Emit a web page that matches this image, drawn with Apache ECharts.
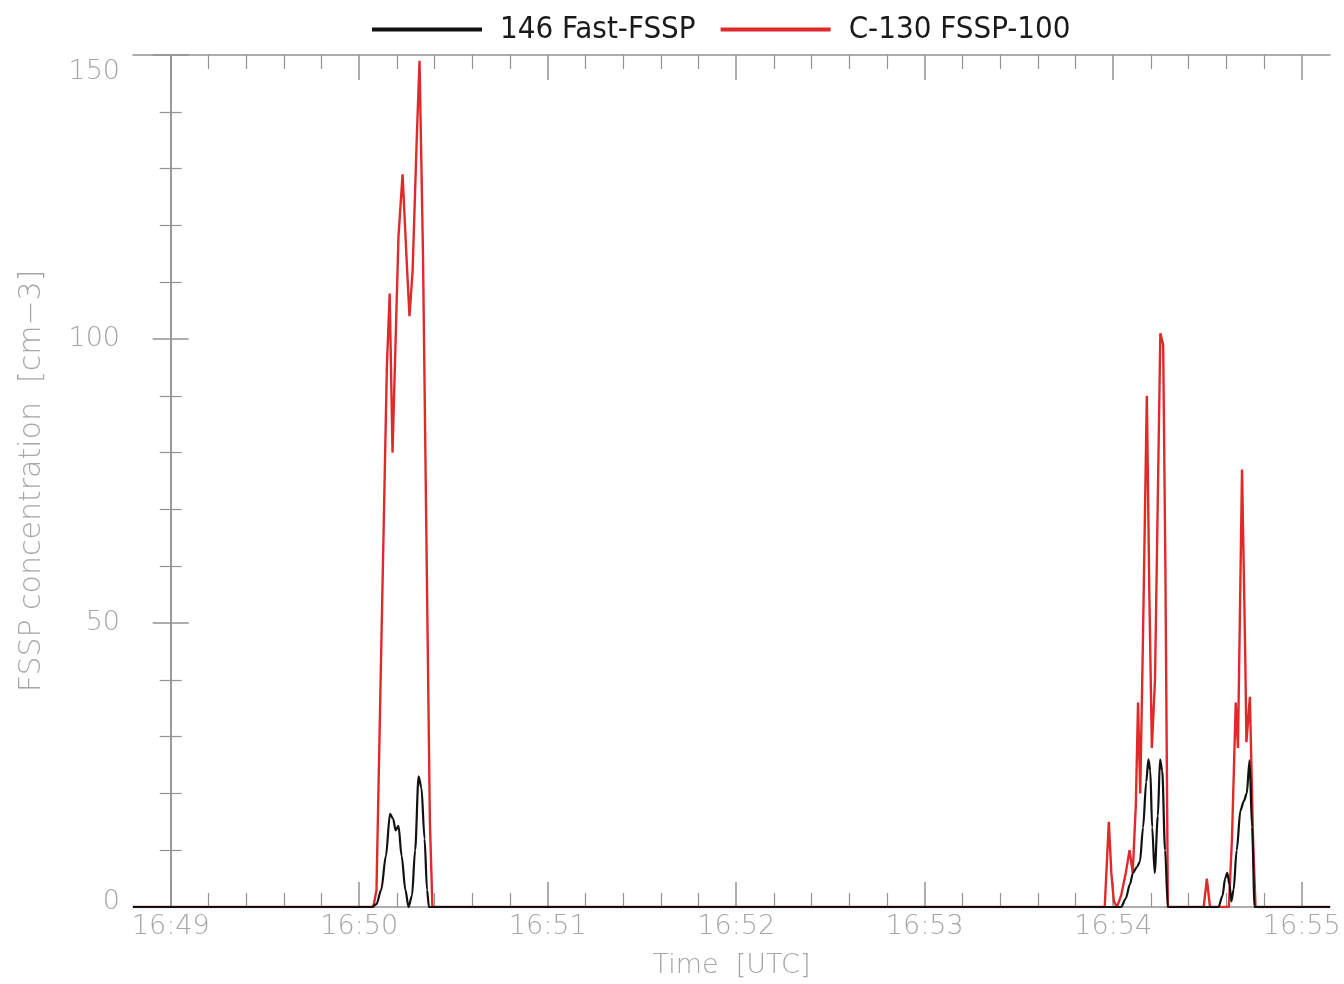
<!DOCTYPE html>
<html>
<head>
<meta charset="utf-8">
<script src="https://cdn.jsdelivr.net/npm/echarts@6/dist/echarts.min.js"></script>
<style>
html,body{margin:0;padding:0;background:#fff;}
#chart{width:1344px;height:984px;}
</style>
</head>
<body>
<div id="chart"></div>
<script>
// time in seconds relative to 16:49:00 UTC
var seriesNames = ['146 Fast-FSSP', 'C-130 FSSP-100'];
var timeTicks = [0, 60, 120, 180, 240, 300, 360];
var tickLabels = ['16:49', '16:50', '16:51', '16:52', '16:53', '16:54', '16:55'];
var minorTimeTicks = [12,24,36,48,72,84,96,108,132,144,156,168,192,204,216,228,252,264,276,288,312,324,336,348];
var yTicks = [0, 50, 100, 150];

var fastFSSP = [
  [-12,0],[64,0],[65.5,0.5],[67,3],[68.5,9],[69.8,16.4],[70.8,15.5],[71.6,13.5],[72.5,14.3],[73.5,9],[74.7,3],[75.7,0],
  [76.8,2],[77.8,10],[78.9,23],[79.8,21],[80.8,12],[81.6,3],[82.2,0],
  [302.5,0],[304,1.5],[305.3,4],[306.3,6],[307.5,7],[308.5,8],[309.5,14],[310.5,22],[311.2,26],[311.8,24],[312.4,14],[313.2,6],
  [314.2,16],[314.9,26],[315.6,24],[316.5,10],[317.4,0],
  [333.5,0],[334.8,2],[335.6,5],[336.3,6],[337.0,4],[337.6,1],[338.3,3],[339.3,10],[340.5,17],[341.6,18.7],[342.5,20],[343.4,25.8],[344.2,14],[345.0,0],[369,0]
];
var c130FSSP = [
  [-12,0],[64.5,0],[65.5,3],[67,45],[68.8,95],[69.7,108],[70.6,80],[71.5,98],[72.5,118],[73.8,129],[75,115],[76,104],[77,112],[78.3,135],[79.2,149],[80.3,115],[81.5,60],[82.5,15],[83.3,0],
  [297.3,0],[298.6,15],[299.4,6],[300.2,1],[301.2,0],[302.5,2],[304,6],[305.2,10],[306.2,6],[307.2,18],[307.9,36],[308.6,20],[309.4,45],[310.7,90],[311.5,55],[312.3,28],[313.3,40],[315.0,101],[315.9,99],[316.6,60],[317.4,0],
  [328.8,0],[329.8,5],[330.8,0],[336.8,0],[337.8,12],[339.0,36],[339.7,28],[341.0,77],[342.0,45],[342.4,29],[343.5,37],[344.5,12],[345.3,0],[369,0]
];

var axisGrey = '#939393';
var labelGrey = '#a6a6a6';
var fontFam = 'DejaVu Sans';
var legendFont = "'DejaVu Sans Condensed', Lato, sans-serif";

function baseX(pos, showLine) {
  return {
    type: 'value', position: pos, min: -12, max: 369,
    axisLine: { show: showLine, onZero: false, lineStyle: { color: axisGrey, width: 1.5 } },
    splitLine: { show: false }
  };
}

var xMajorBottom = baseX('bottom', true);
xMajorBottom.axisTick = { show: true, inside: true, length: 25, customValues: timeTicks, lineStyle: { color: axisGrey, width: 1.5 } };
xMajorBottom.axisLabel = {
  show: true, customValues: timeTicks, margin: 6, color: labelGrey, fontFamily: fontFam, fontSize: 27, fontWeight: 200,
  formatter: function (v) { var i = timeTicks.indexOf(v); return i >= 0 ? tickLabels[i] : ''; }
};
xMajorBottom.name = 'Time  [UTC]';
xMajorBottom.nameLocation = 'middle';
xMajorBottom.nameGap = 45;
xMajorBottom.nameTextStyle = { color: labelGrey, fontFamily: fontFam, fontSize: 27, fontWeight: 200 };

var xMinorBottom = baseX('bottom', false);
xMinorBottom.axisTick = { show: true, inside: true, length: 14, customValues: minorTimeTicks, lineStyle: { color: axisGrey, width: 1.2 } };
xMinorBottom.axisLabel = { show: false };

var xMajorTop = baseX('top', true);
xMajorTop.axisTick = { show: true, inside: true, length: 25, customValues: timeTicks, lineStyle: { color: axisGrey, width: 1.5 } };
xMajorTop.axisLabel = { show: false };

var xMinorTop = baseX('top', false);
xMinorTop.axisTick = { show: true, inside: true, length: 14, customValues: minorTimeTicks, lineStyle: { color: axisGrey, width: 1.2 } };
xMinorTop.axisLabel = { show: false };

function baseY(pos, showLabels) {
  var ax = {
    type: 'value', position: pos, min: 0, max: 150, interval: 50,
    axisLine: { show: true, lineStyle: { color: axisGrey, width: 1.5 } },
    axisTick: { show: true, inside: true, length: 18, lineStyle: { color: axisGrey, width: 1.5 } },
    minorTick: { show: true, splitNumber: 5, length: 11, lineStyle: { color: axisGrey, width: 1.2 } },
    splitLine: { show: false },
    axisLabel: { show: showLabels }
  };
  return ax;
}
var yLeft = baseY('left', true);
yLeft.axisLabel = {
  show: true, margin: 13, color: labelGrey, fontFamily: fontFam, fontSize: 27, fontWeight: 200,
  formatter: function (v) {
    if (v === yTicks[yTicks.length - 1]) return '{hi|' + v + '}';
    if (v === yTicks[0]) return '{lo|' + v + '}';
    return String(v);
  },
  rich: {
    hi: { padding: [34, 0, 0, 0], color: labelGrey, fontFamily: fontFam, fontSize: 27, fontWeight: 200 },
    lo: { padding: [0, 0, 10, 0], color: labelGrey, fontFamily: fontFam, fontSize: 27, fontWeight: 200 }
  }
};
yLeft.name = 'FSSP concentration  [cm\u22123]';
yLeft.nameLocation = 'middle';
yLeft.nameGap = 86;
yLeft.nameTextStyle = { color: labelGrey, fontFamily: fontFam, fontSize: 30, fontWeight: 200 };
var yRight = baseY('right', false);

var chart = echarts.init(document.getElementById('chart'), null, { renderer: 'canvas' });
chart.setOption({
  backgroundColor: '#ffffff',
  animation: false,
  grid: { left: 133, right: 14, top: 55, bottom: 77, containLabel: false },
  legend: {
    left: 367, top: 9, itemGap: 25, itemWidth: 110, itemHeight: 4, icon: 'rect',
    textStyle: { fontFamily: legendFont, fontSize: 31, color: '#1a1a1a', padding: [0, 0, 0, 13] },
    data: seriesNames
  },
  xAxis: [xMajorBottom, xMinorBottom, xMajorTop, xMinorTop],
  yAxis: [yLeft, yRight],
  series: [
    {
      name: seriesNames[0], type: 'line', xAxisIndex: 0, yAxisIndex: 0, data: fastFSSP,
      showSymbol: false, smooth: 0.3, smoothMonotone: 'x', z: 4,
      lineStyle: { color: '#111111', width: 2.2 }, itemStyle: { color: '#111111' }
    },
    {
      name: seriesNames[1], type: 'line', xAxisIndex: 0, yAxisIndex: 0, data: c130FSSP,
      showSymbol: false, smooth: false, z: 3,
      lineStyle: { color: '#e02a2a', width: 2.4 }, itemStyle: { color: '#e02a2a' }
    }
  ]
});
</script>
</body>
</html>
